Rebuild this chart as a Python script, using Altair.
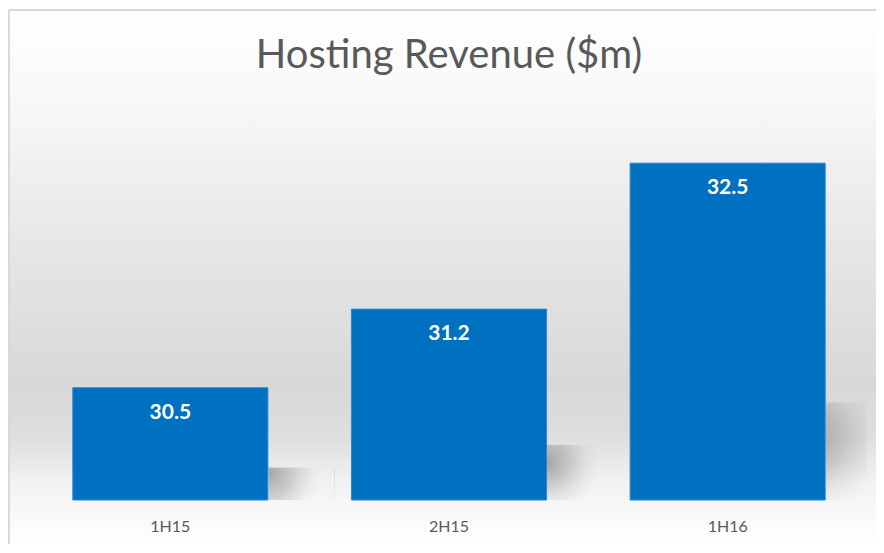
import altair as alt
import pandas as pd

title_text = "Hosting Revenue ($m)"
periods = ["1H15", "2H15", "1H16"]
revenue = [30.5, 31.2, 32.5]
labels = ["30.5", "31.2", "32.5"]
y_min, y_max = 29.5, 33.0

df = pd.DataFrame({"period": periods, "revenue": revenue, "label": labels})

W, H = 836, 393

x_enc = alt.X("period:N", sort=periods,
              scale=alt.Scale(paddingInner=0.3, paddingOuter=0.15),
              axis=alt.Axis(title=None, ticks=False, domain=False, grid=False,
                            labelAngle=0, labelFont="Lato", labelFontSize=16,
                            labelColor="#595959", labelPadding=18, zindex=2))
y_scale = alt.Scale(domain=[y_min, y_max], zero=False, nice=False)

bg_grad = {
    "gradient": "linear", "x1": 0, "y1": 0, "x2": 0, "y2": 1,
    "stops": [
        {"offset": 0.0, "color": "#ffffff"},
        {"offset": 0.17, "color": "#f8f8f8"},
        {"offset": 0.45, "color": "#e6e6e6"},
        {"offset": 0.70, "color": "#d8d8d8"},
        {"offset": 0.80, "color": "#dedede"},
        {"offset": 0.885, "color": "#f2f2f2"},
        {"offset": 1.0, "color": "#ffffff"},
    ],
}

one = pd.DataFrame({"title": [title_text]})
background = alt.Chart(one).mark_rect(fill=bg_grad).encode(
    x=alt.value(-22), x2=alt.value(W + 9),
    y=alt.value(-97), y2=alt.value(H + 44),
)
border_top = alt.Chart(one).mark_rule(color="#d9d9d9", strokeWidth=2).encode(
    x=alt.value(-22), x2=alt.value(W + 9), y=alt.value(-97),
)
border_left = alt.Chart(one).mark_rule(color="#d9d9d9", strokeWidth=2).encode(
    x=alt.value(-22), y=alt.value(-97), y2=alt.value(H + 44),
)
title = alt.Chart(one).mark_text(font="Lato", fontSize=40, color="#595959",
                                 align="center", baseline="alphabetic").encode(
    x=alt.value(W / 2), y=alt.value(-39), text="title:N",
)

shadow_grad = {
    "gradient": "radial", "x1": 0.0, "y1": 0.35, "r1": 0.0,
    "x2": 0.0, "y2": 0.35, "r2": 0.8,
    "stops": [
        {"offset": 0.0, "color": "rgba(140,140,140,0.75)"},
        {"offset": 0.45, "color": "rgba(160,160,160,0.45)"},
        {"offset": 1.0, "color": "rgba(210,210,210,0)"},
    ],
}

base = alt.Chart(df)

shadow = base.transform_calculate(
    stop=f"{y_min} + (datum.revenue - {y_min}) * 0.29"
).mark_bar(width=66, xOffset=131, fill=shadow_grad, clip=True).encode(
    x=x_enc,
    y=alt.Y("stop:Q", scale=y_scale, axis=None),
    y2=alt.datum(y_min),
)

bars = base.mark_bar(color="#0070C0", stroke="#2f86cf", strokeWidth=1).encode(
    x=x_enc,
    y=alt.Y("revenue:Q", scale=y_scale, axis=None),
    y2=alt.datum(y_min),
)

text = base.mark_text(dy=25, baseline="middle", color="white", font="Lato",
                      fontWeight="bold", fontSize=21).encode(
    x=x_enc,
    y=alt.Y("revenue:Q", scale=y_scale, axis=None),
    text="label:N",
)

chart = alt.layer(background, border_top, border_left, title, shadow, bars, text).properties(
    width=W, height=H,
    autosize=alt.AutoSizeParams(type="none"),
    padding={"left": 23, "top": 99, "right": 9, "bottom": 44},
).configure_view(stroke=None).configure(background="white")

chart.save("out.html", embed_options={"renderer": "svg", "actions": False})
